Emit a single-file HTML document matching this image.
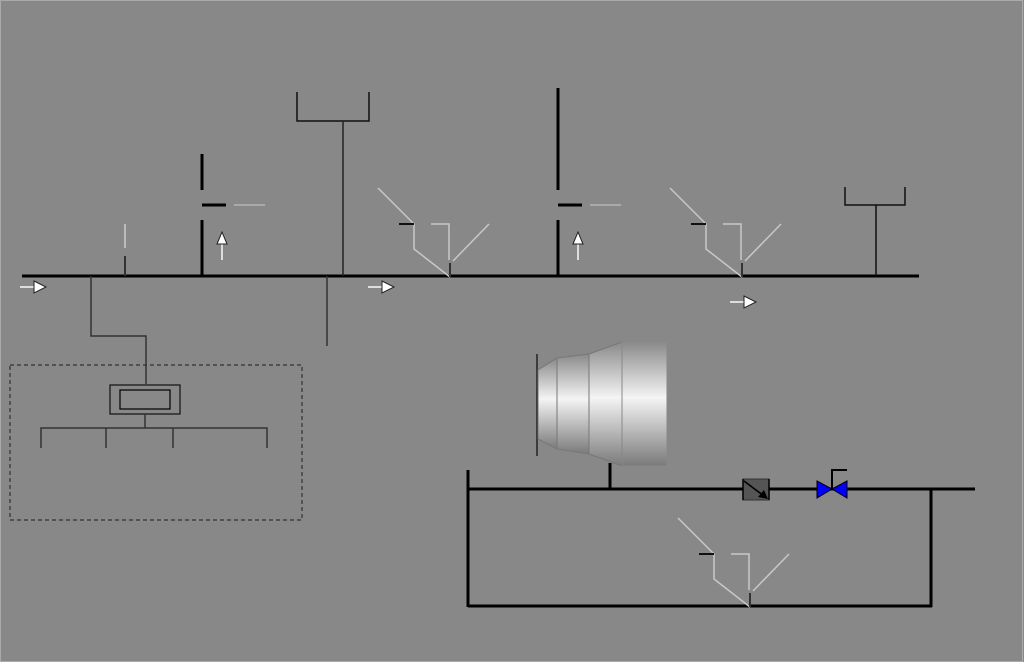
<!DOCTYPE html>
<html><head><meta charset="utf-8"><style>
html,body{margin:0;padding:0;background:#888;}
svg{display:block;}
</style></head><body>
<svg width="1024" height="662" viewBox="0 0 1024 662" xmlns="http://www.w3.org/2000/svg">
<defs>
<linearGradient id="tg" x1="0" y1="0" x2="0" y2="1">
<stop offset="0" stop-color="#8a8a8a"/><stop offset="0.45" stop-color="#f4f4f4"/><stop offset="1" stop-color="#7a7a7a"/>
</linearGradient>
<g id="vfig">
<polyline points="0,0 36,36 36,61 72,89" fill="none" stroke="#c8c8c8" stroke-width="1.5"/>
<line x1="21" y1="36" x2="36" y2="36" stroke="#111" stroke-width="2"/>
<polyline points="53,36 71,36 71,72" fill="none" stroke="#c8c8c8" stroke-width="1.5"/>
<line x1="72" y1="75" x2="72" y2="89" stroke="#333" stroke-width="2"/>
<line x1="75" y1="73" x2="111" y2="36" stroke="#c8c8c8" stroke-width="1.5"/>
</g>
<g id="rarrow">
<line x1="0" y1="0" x2="14" y2="0" stroke="#ddd" stroke-width="2"/>
<polygon points="14,-6 26,0 14,6" fill="#fff" stroke="#222" stroke-width="1"/>
</g>
<g id="uarrow">
<line x1="0" y1="28" x2="0" y2="12" stroke="#ddd" stroke-width="2"/>
<polygon points="-5,12 0,0 5,12" fill="#fff" stroke="#222" stroke-width="1"/>
</g>
</defs>
<rect x="0.5" y="0.5" width="1022" height="661" fill="#888" stroke="#aaa"/>

<g>
<line x1="22" y1="276" x2="919" y2="276" stroke="#000" stroke-width="3"/>
</g>
<use href="#rarrow" x="20" y="287"/>
<use href="#rarrow" x="368" y="287"/>
<use href="#rarrow" x="730" y="302"/>

<g>
<line x1="125" y1="224" x2="125" y2="248" stroke="#ccc" stroke-width="1.5"/>
<line x1="125" y1="256" x2="125" y2="276" stroke="#333" stroke-width="2"/>
</g>

<g>
<line x1="202" y1="154" x2="202" y2="190" stroke="#000" stroke-width="3"/>
<line x1="202" y1="220" x2="202" y2="276" stroke="#000" stroke-width="3"/>
<line x1="202" y1="205" x2="226" y2="205" stroke="#000" stroke-width="3"/>
<line x1="234" y1="205" x2="265" y2="205" stroke="#ccc" stroke-width="1"/>
</g>
<use href="#uarrow" x="222" y="232"/>

<g>
<polyline points="297,92 297,121 369,121 369,92" fill="none" stroke="#111" stroke-width="1.5"/>
<line x1="343" y1="121" x2="343" y2="276" stroke="#222" stroke-width="1.5"/>
</g>
<line x1="327" y1="276" x2="327" y2="346" stroke="#333" stroke-width="1.5"/>

<use href="#vfig" x="378" y="188"/>

<g>
<line x1="558" y1="88" x2="558" y2="190" stroke="#000" stroke-width="3"/>
<line x1="558" y1="220" x2="558" y2="276" stroke="#000" stroke-width="3"/>
<line x1="558" y1="205" x2="582" y2="205" stroke="#000" stroke-width="3"/>
<line x1="590" y1="205" x2="621" y2="205" stroke="#ccc" stroke-width="1"/>
</g>
<use href="#uarrow" x="578" y="232"/>

<use href="#vfig" x="670" y="188"/>

<g>
<polyline points="845,187 845,205 905,205 905,187" fill="none" stroke="#111" stroke-width="1.5"/>
<line x1="876" y1="205" x2="876" y2="276" stroke="#111" stroke-width="1.5"/>
</g>

<polyline points="91,276 91,336 146,336 146,384" fill="none" stroke="#333" stroke-width="1.5"/>
<rect x="10" y="365" width="292" height="155" fill="none" stroke="#333" stroke-width="1.2" stroke-dasharray="4,3"/>
<g>
<rect x="110" y="385" width="70" height="29" fill="none" stroke="#111" stroke-width="1.2"/>
<rect x="120" y="390" width="50" height="19" fill="none" stroke="#000" stroke-width="1.2"/>
<line x1="145" y1="414" x2="145" y2="428" stroke="#333" stroke-width="1.5"/>
<polyline points="41,448 41,428 267,428 267,448" fill="none" stroke="#333" stroke-width="1.5"/>
<line x1="106" y1="428" x2="106" y2="448" stroke="#333" stroke-width="1.5"/>
<line x1="173" y1="428" x2="173" y2="448" stroke="#333" stroke-width="1.5"/>
</g>

<g>
<line x1="537" y1="354" x2="537" y2="456" stroke="#222" stroke-width="1.5"/>
<polygon points="538,370 557,358 557,449 538,439" fill="url(#tg)" stroke="#777" stroke-width="1"/>
<polygon points="557,358 589,354 589,454 557,449" fill="url(#tg)" stroke="#777" stroke-width="1"/>
<polygon points="589,354 622,342 622,466 589,454" fill="url(#tg)" stroke="#777" stroke-width="1"/>
<rect x="622" y="342" width="45" height="124" fill="url(#tg)" stroke="#888" stroke-width="1"/>
<line x1="610" y1="463" x2="610" y2="489" stroke="#000" stroke-width="3"/>
</g>

<g>
<line x1="468" y1="470" x2="468" y2="607" stroke="#000" stroke-width="3"/>
<line x1="468" y1="489" x2="975" y2="489" stroke="#000" stroke-width="3"/>
<line x1="468" y1="606" x2="932" y2="606" stroke="#000" stroke-width="3"/>
<line x1="931" y1="489" x2="931" y2="607" stroke="#000" stroke-width="3"/>
</g>
<g>
<rect x="743" y="479" width="26" height="21" fill="#555" stroke="#333"/>
<line x1="743" y1="479" x2="743" y2="500" stroke="#000" stroke-width="1.5"/>
<line x1="769" y1="479" x2="769" y2="500" stroke="#000" stroke-width="1.5"/>
<line x1="744" y1="481" x2="764" y2="496" stroke="#000" stroke-width="1.5"/>
<polygon points="768,499 758,497 764,490" fill="#000"/>
</g>
<g>
<polygon points="817,481 832,489 817,498" fill="#0000ff" stroke="#000" stroke-width="1"/>
<polygon points="847,481 832,489 847,498" fill="#0000ff" stroke="#000" stroke-width="1"/>
<polyline points="832,489 832,470 847,470" fill="none" stroke="#000" stroke-width="2"/>
</g>
<use href="#vfig" x="678" y="518"/>
</svg>
</body></html>
